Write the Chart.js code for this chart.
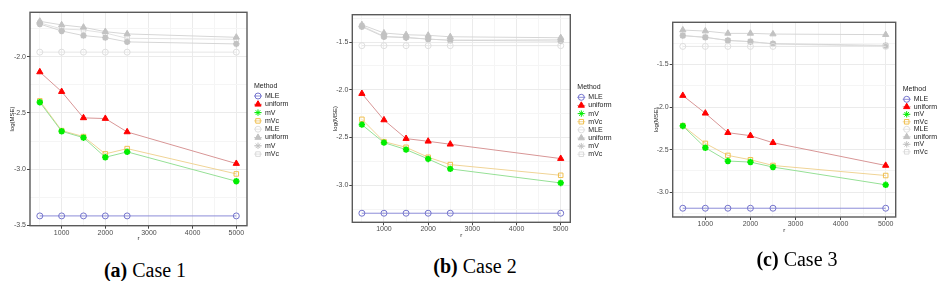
<!DOCTYPE html>
<html lang="en">
<head>
<meta charset="UTF-8">
<title>log(MSE) vs r</title>
<script src="https://cdn.jsdelivr.net/npm/chart.js@4.4.1/dist/chart.umd.min.js"></script>
<style>
  body { margin:0; background:#fff; }
  #wrap { position:relative; width:942px; height:281px; overflow:hidden; }
  canvas { position:absolute; top:0; }
  .cap { position:absolute; font-family:"Liberation Serif", serif; font-size:20px; color:#000; white-space:nowrap; transform:translate(-50%,-50%); }
  .cap b { font-weight:bold; }
</style>
</head>
<body>
<div id="wrap">
  <canvas id="c1" width="314" height="250" style="left:0px"></canvas>
  <canvas id="c2" width="314" height="250" style="left:314px"></canvas>
  <canvas id="c3" width="314" height="250" style="left:628px"></canvas>
  <div class="cap" style="left:145px; top:270px"><b>(a)</b> Case 1</div>
  <div class="cap" style="left:475px; top:266px"><b>(b)</b> Case 2</div>
  <div class="cap" style="left:797px; top:259px"><b>(c)</b> Case 3</div>
</div>
<script>
// sample sizes r
var rValues = [500, 1000, 1500, 2000, 2500, 5000];
var methods = ['MLE', 'uniform', 'mV', 'mVc', 'MLE', 'uniform', 'mV', 'mVc'];

// tick labels
var xTicks = [1000, 2000, 3000, 4000, 5000];
var xMinor = [500, 1500, 2500, 3500, 4500];
var yTicks = [-1.5, -2.0, -2.5, -3.0, -3.5];
var yMinor = [-1.25, -1.75, -2.25, -2.75, -3.25];

// Case 1
var c1MLE   = [-3.415, -3.415, -3.415, -3.415, -3.415, -3.415];
var c1Unif  = [-2.136, -2.311, -2.544, -2.550, -2.669, -2.950];
var c1MV    = [-2.405, -2.663, -2.720, -2.894, -2.846, -3.107];
var c1MVc   = [-2.393, -2.657, -2.710, -2.864, -2.817, -3.042];
var c1MLEg  = [-1.960, -1.960, -1.960, -1.960, -1.960, -1.960];
var c1UnifG = [-1.686, -1.718, -1.739, -1.778, -1.798, -1.828];
var c1MVg   = [-1.710, -1.772, -1.813, -1.831, -1.869, -1.887];
var c1MVcG  = [-1.700, -1.754, -1.763, -1.790, -1.837, -1.846];

// Case 2
var c2MLE   = [-3.292, -3.292, -3.292, -3.292, -3.292, -3.292];
var c2Unif  = [-2.040, -2.316, -2.511, -2.539, -2.570, -2.720];
var c2MV    = [-2.365, -2.553, -2.626, -2.724, -2.828, -2.975];
var c2MVc   = [-2.309, -2.543, -2.602, -2.706, -2.783, -2.895];
var c2MLEg  = [-1.538, -1.538, -1.538, -1.538, -1.538, -1.538];
var c2UnifG = [-1.319, -1.406, -1.424, -1.430, -1.445, -1.455];
var c2MVg   = [-1.340, -1.445, -1.455, -1.469, -1.482, -1.490];
var c2MVcG  = [-1.330, -1.440, -1.450, -1.470, -1.480, -1.475];

// Case 3
var c3MLE   = [-3.188, -3.188, -3.188, -3.188, -3.188, -3.188];
var c3Unif  = [-1.865, -2.073, -2.301, -2.336, -2.419, -2.686];
var c3MV    = [-2.222, -2.478, -2.634, -2.646, -2.705, -2.913];
var c3MVc   = [-2.218, -2.427, -2.568, -2.619, -2.686, -2.804];
var c3MLEg  = [-1.288, -1.288, -1.288, -1.288, -1.288, -1.288];
var c3UnifG = [-1.096, -1.108, -1.135, -1.135, -1.143, -1.150];
var c3MVg   = [-1.162, -1.182, -1.217, -1.233, -1.256, -1.276];
var c3MVcG  = [-1.160, -1.180, -1.220, -1.230, -1.260, -1.286];

// look of each method: line colour, point colour, fill, shape, size
var looks = [
  {line:'#8c8cd8', pt:'#7474cc', fill:'rgba(0,0,0,0)', shape:'circle',    r:3,   bw:1},
  {line:'#d89696', pt:'#ff0000', fill:'#ff0000',        shape:'triangle',  r:3.6, bw:1},
  {line:'#96e096', pt:'#00ee00', fill:'#00ee00',        shape:'star',      r:3.2, bw:1.8},
  {line:'#f0d496', pt:'#f0c050', fill:'rgba(0,0,0,0)', shape:'rect',      r:3.2, bw:1},
  {line:'#e6e6e6', pt:'#dedede', fill:'rgba(0,0,0,0)', shape:'circle',    r:3,   bw:1},
  {line:'#d6d6d6', pt:'#c2c2c2', fill:'#c2c2c2',        shape:'triangle',  r:3.6, bw:1},
  {line:'#d6d6d6', pt:'#c2c2c2', fill:'#c2c2c2',        shape:'star',      r:3.2, bw:1.8},
  {line:'#e2e2e2', pt:'#dadada', fill:'rgba(0,0,0,0)', shape:'rect',      r:3.2, bw:1}
];

// frame, axis titles and legend
var framePlugin = {
  id: 'frame',
  afterDraw: function(chart, args, o) {
    var ctx = chart.ctx, a = chart.chartArea;
    ctx.save();
    ctx.strokeStyle = '#5a5a5a';
    ctx.lineWidth = 1.4;
    ctx.strokeRect(a.left, a.top, a.right - a.left, a.bottom - a.top);

    ctx.fillStyle = '#222';
    ctx.font = '6px "Liberation Sans"';
    ctx.textAlign = 'center';
    ctx.textBaseline = 'middle';
    ctx.fillText('r', (a.left + a.right) / 2, a.bottom + 13);
    ctx.save();
    ctx.translate(a.left - o.yTitleGap, (a.top + a.bottom) / 2);
    ctx.rotate(-Math.PI / 2);
    ctx.fillText('log(MSE)', 0, 0);
    ctx.restore();

    // legend
    var lx = a.right + 7;
    ctx.textAlign = 'left';
    ctx.fillStyle = '#222';
    ctx.font = '7px "Liberation Sans"';
    ctx.fillText('Method', lx, o.legTop);
    chart.data.datasets.forEach(function(ds, i) {
      var lk = looks[i];
      var y = o.legTop + 10 + i * o.legGap;
      var kx = lx + 4;
      ctx.strokeStyle = lk.line;
      ctx.lineWidth = 1;
      ctx.beginPath(); ctx.moveTo(kx - 4, y); ctx.lineTo(kx + 4, y); ctx.stroke();
      ctx.strokeStyle = lk.pt;
      ctx.fillStyle = lk.fill;
      Chart.helpers.drawPoint(ctx, {pointStyle: lk.shape, radius: lk.r, borderWidth: lk.bw, rotation: 0}, kx, y);
      ctx.fillStyle = '#222';
      ctx.fillText(ds.label, lx + 11, y);
    });
    ctx.restore();
  }
};

function makeChart(id, series, p) {
  var datasets = series.map(function(vals, i) {
    var lk = looks[i];
    return {
      label: methods[i],
      data: vals.map(function(v, j) { return {x: rValues[j], y: v}; }),
      borderColor: lk.line,
      borderWidth: 1,
      pointStyle: lk.shape,
      pointRadius: lk.r,
      pointBorderWidth: lk.bw,
      pointBorderColor: lk.pt,
      pointBackgroundColor: lk.fill,
      tension: 0,
      fill: false,
      order: i < 4 ? 0 : 1
    };
  });
  var yMaj = yTicks.filter(function(v) { return v <= p.ymax && v >= p.ymin; });
  var yMin = yMinor.filter(function(v) { return v <= p.ymax && v >= p.ymin; });
  return new Chart(document.getElementById(id), {
    type: 'line',
    data: {datasets: datasets},
    plugins: [framePlugin],
    options: {
      responsive: false,
      animation: false,
      events: [],
      layout: {padding: {left: 0, right: p.padR, top: p.padT, bottom: p.padB}},
      plugins: {
        legend: {display: false},
        tooltip: {enabled: false},
        frame: {yTitleGap: p.yTitleGap, legTop: p.legTop, legGap: p.legGap}
      },
      scales: {
        x: {
          type: 'linear', min: p.xmin, max: p.xmax,
          afterBuildTicks: function(s) {
            s.ticks = xMinor.concat(xTicks).sort(function(a, b) { return a - b; })
              .map(function(v) { return {value: v}; });
          },
          afterFit: function(s) { s.height = 20; },
          border: {display: false},
          grid: {
            color: function(c) { return xTicks.indexOf(c.tick.value) >= 0 ? '#ebebeb' : '#f5f5f5'; },
            tickColor: function(c) { return xTicks.indexOf(c.tick.value) >= 0 ? '#444' : 'rgba(0,0,0,0)'; },
            tickLength: 3, lineWidth: 1
          },
          ticks: {
            autoSkip: false, maxRotation: 0, padding: 0, color: '#4d4d4d',
            font: {family: 'Liberation Sans', size: 7},
            callback: function(v) { return xTicks.indexOf(v) >= 0 ? String(v) : ''; }
          }
        },
        y: {
          type: 'linear', min: p.ymin, max: p.ymax,
          afterBuildTicks: function(s) {
            s.ticks = yMin.concat(yMaj).sort(function(a, b) { return a - b; })
              .map(function(v) { return {value: v}; });
          },
          afterFit: function(s) { s.width = p.yW; },
          border: {display: false},
          grid: {
            color: function(c) { return yMaj.indexOf(c.tick.value) >= 0 ? '#ebebeb' : '#f5f5f5'; },
            tickColor: function(c) { return yMaj.indexOf(c.tick.value) >= 0 ? '#444' : 'rgba(0,0,0,0)'; },
            tickLength: 3, lineWidth: 1
          },
          ticks: {
            autoSkip: false, padding: 1, color: '#4d4d4d',
            font: {family: 'Liberation Sans', size: 7},
            callback: function(v) { return yMaj.indexOf(v) >= 0 ? v.toFixed(1) : ''; }
          }
        }
      }
    }
  });
}

makeChart('c1', [c1MLE, c1Unif, c1MV, c1MVc, c1MLEg, c1UnifG, c1MVg, c1MVcG],
  {xmin: 275, xmax: 5245, ymin: -3.502, ymax: -1.606, yW: 30, padR: 67, padT: 12.3, padB: 4.3,
   yTitleGap: 18, legTop: 86, legGap: 8.3});
makeChart('c2', [c2MLE, c2Unif, c2MV, c2MVc, c2MLEg, c2UnifG, c2MVg, c2MVcG],
  {xmin: 283, xmax: 5217, ymin: -3.387, ymax: -1.214, yW: 38.3, padR: 57.7, padT: 14.7, padB: 7.7,
   yTitleGap: 16.6, legTop: 87.3, legGap: 8.14});
makeChart('c3', [c3MLE, c3Unif, c3MV, c3MVc, c3MLEg, c3UnifG, c3MVg, c3MVcG],
  {xmin: 276, xmax: 5222, ymin: -3.291, ymax: -1.005, yW: 44.7, padR: 46.3, padT: 22.3, padB: 13,
   yTitleGap: 16, legTop: 89.3, legGap: 7.5});
</script>
</body>
</html>
